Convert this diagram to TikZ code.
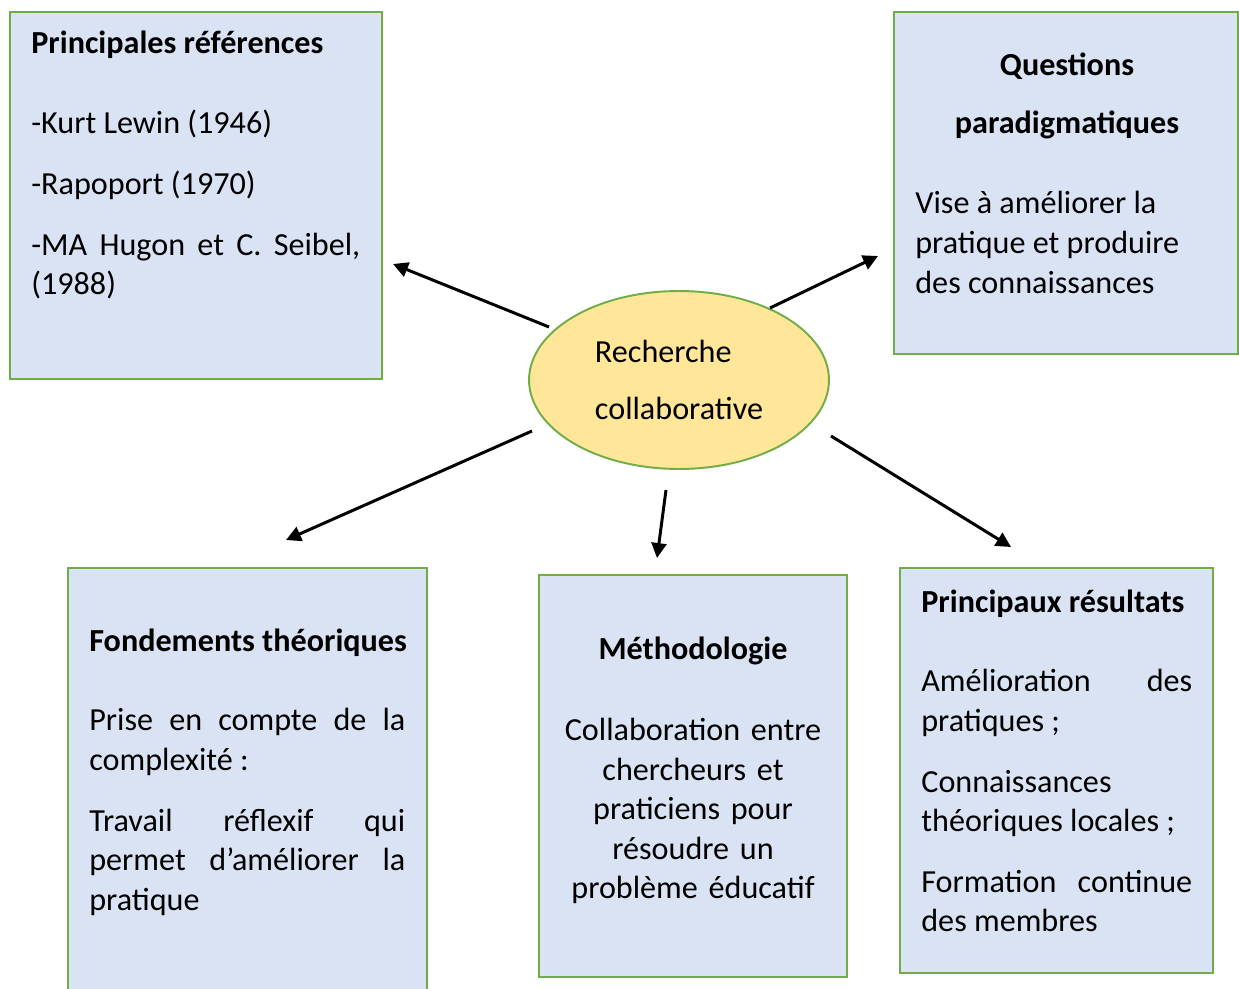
\documentclass[tikz,border=0pt]{standalone}
\usepackage{fontspec}
\setmainfont{Carlito}
\usetikzlibrary{arrows.meta,shapes.geometric}
\definecolor{boxblue}{HTML}{DAE3F3}
\definecolor{boxgreen}{HTML}{70AD47}
\definecolor{ellyellow}{HTML}{FFE699}
\newcommand{\boxfont}{\fontsize{18.3}{22.5}\selectfont}

\begin{document}
\begin{tikzpicture}[x=0.02cm, y=-0.02cm,
                    box node/.style={rectangle,draw=boxgreen,fill=boxblue,line width=1.1pt,inner sep=0pt},
                    main node/.style={ellipse,draw=boxgreen,fill=ellyellow,line width=1.1pt,minimum width=6cm,minimum height=3.56cm,inner sep=0pt,align=left,font=\boxfont},
                    txt node/.style={inner sep=0pt,font=\boxfont},
                    link/.style={-{Triangle[length=8.5pt,width=8.5pt]},line width=1.7pt}]

  \useasboundingbox (0,0) rectangle (1239,989);

  \node[main node] (1) at (679,380) {Recherche\\[10pt]collaborative};

  \node[box node, minimum width=7.44cm, minimum height=7.34cm] (2) at (196,195.5) {};
  \node[box node, minimum width=6.88cm, minimum height=6.84cm] (3) at (1066,183) {};
  \node[box node, minimum width=7.18cm, minimum height=8.64cm] (4) at (247.5,784) {};
  \node[box node, minimum width=6.16cm, minimum height=8.04cm] (5) at (693,776) {};
  \node[box node, minimum width=6.26cm, minimum height=8.1cm] (6) at (1056.5,770.5) {};

  % texts
  \node[txt node, anchor=base west, text width=6.58cm, align=flush left] (2a) at (31,54)
    {\textbf{Principales références}\\[23pt]
     -Kurt Lewin (1946)\\[12pt]
     -Rapoport (1970)\\[12pt]
     -MA\hfill Hugon\hfill et\hfill C.\hfill Seibel,\\
     (1988)};
  \node[txt node, anchor=base, text width=6cm, align=center] (3a) at (1067,76)
    {\textbf{Questions}\\[10pt]\textbf{paradigmatiques}};
  \node[txt node, anchor=base west, text width=6cm, align=flush left] (3b) at (915,214)
    {Vise à améliorer la\\pratique et produire\\des connaissances};
  \node[txt node, anchor=base west, text width=6.32cm, align=flush left] (4a) at (89,651)
    {\mbox{\textbf{Fondements théoriques}}\\[23pt]
     Prise\hfill en\hfill compte\hfill de\hfill la\\
     complexité :\\[12pt]
     Travail\hfill réflexif\hfill qui\\
     permet\hfill d’améliorer\hfill la\\
     pratique};
  \node[txt node, anchor=base, text width=6cm, align=center] (5a) at (693,659)
    {\textbf{Méthodologie}\\[24pt]
     Collaboration entre\\chercheurs et\\praticiens pour\\résoudre un\\problème éducatif};
  \node[txt node, anchor=base west, text width=5.42cm, align=flush left] (6a) at (921,612)
    {\textbf{Principaux résultats}\\[23pt]
     Amélioration\hfill des\\
     pratiques ;\\[12pt]
     Connaissances\\
     théoriques locales ;\\[12pt]
     Formation\hfill continue\\
     des membres};

  \coordinate (a1) at (549,327);
  \coordinate (b1) at (393,264);
  \coordinate (a2) at (770,308);
  \coordinate (b2) at (878,256);
  \coordinate (a3) at (532,431);
  \coordinate (b3) at (286,540);
  \coordinate (a4) at (666,490);
  \coordinate (b4) at (657,558);
  \coordinate (a5) at (831,436);
  \coordinate (b5) at (1011,547);

  \path[link]
    (a1) edge (b1)
    (a2) edge (b2)
    (a3) edge (b3)
    (a4) edge (b4)
    (a5) edge (b5);

\end{tikzpicture}
\end{document}
